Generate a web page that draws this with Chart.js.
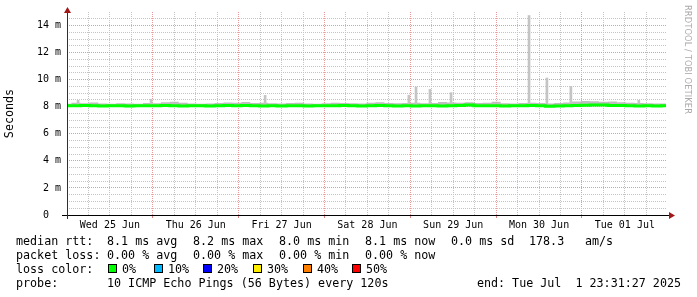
<!DOCTYPE html>
<html>
<head>
<meta charset="utf-8">
<script src="https://cdn.jsdelivr.net/npm/chart.js@4.4.1/dist/chart.umd.min.js"></script>
<style>
html, body { margin: 0; padding: 0; background: #fff; }
#wrap { position: relative; width: 697px; height: 297px; overflow: hidden; background: #fff; }
#chart { position: absolute; left: 0; top: 0; }
.txt { position: absolute; font-family: "DejaVu Sans Mono", monospace; font-size: 11.7px; line-height: 14px; white-space: pre; color: #000; }
.box { position: absolute; width: 7px; height: 7px; border: 1px solid #000; }
#mark { position: absolute; left: 683px; top: 5px; writing-mode: vertical-rl; font-family: "DejaVu Sans", sans-serif; font-size: 8.3px; color: #aaaaaa; letter-spacing: 0.1px; }
</style>
</head>
<body>
<div id="wrap">
  <canvas id="chart" width="697" height="297"></canvas>
  <div id="mark">RRDTOOL / TOBI OETIKER</div>

  <div class="txt" style="left:16px;top:234px">median rtt:</div>
  <div class="txt" style="left:107px;top:234px">8.1 ms avg</div>
  <div class="txt" style="left:193px;top:234px">8.2 ms max</div>
  <div class="txt" style="left:279px;top:234px">8.0 ms min</div>
  <div class="txt" style="left:365px;top:234px">8.1 ms now</div>
  <div class="txt" style="left:451px;top:234px">0.0 ms sd</div>
  <div class="txt" style="left:529px;top:234px">178.3</div>
  <div class="txt" style="left:585px;top:234px">am/s</div>

  <div class="txt" style="left:16px;top:248px">packet loss:</div>
  <div class="txt" style="left:107px;top:248px">0.00 % avg</div>
  <div class="txt" style="left:193px;top:248px">0.00 % max</div>
  <div class="txt" style="left:279px;top:248px">0.00 % min</div>
  <div class="txt" style="left:365px;top:248px">0.00 % now</div>

  <div class="txt" style="left:16px;top:262px">loss color:</div>
  <div id="lossRow"></div>

  <div class="txt" style="left:16px;top:276px">probe:</div>
  <div class="txt" style="left:107px;top:276px">10 ICMP Echo Pings (56 Bytes) every 120s</div>
  <div class="txt" style="right:16px;top:276px">end: Tue Jul  1 23:31:27 2025</div>
</div>
<script>
// one sample every 2.5 hours, starting Wed 25 Jun 00:00
const stepHours = 2.5
const rangeHours = 167.5

// median rtt (ms)
const medianRtt = [
  8.08, 8.07, 8.09, 8.07, 8.06, 8.08, 8.07, 8.05, 8.07, 8.08,
  8.07, 8.09, 8.07, 8.06, 8.07, 8.08, 8.06, 8.07, 8.09, 8.08,
  8.10, 8.08, 8.06, 8.07, 8.06, 8.08, 8.07, 8.06, 8.07, 8.08,
  8.07, 8.09, 8.08, 8.06, 8.08, 8.09, 8.07, 8.06, 8.07, 8.06,
  8.08, 8.07, 8.06, 8.08, 8.10, 8.12, 8.08, 8.07, 8.08, 8.06,
  8.07, 8.08, 8.09, 8.07, 8.04, 8.06, 8.08, 8.09, 8.11, 8.13,
  8.12, 8.10, 8.09, 8.07, 8.06, 8.07, 8.06, 8.07
]

// smoke: spread of the single pings (ms)
const smokeHigh = [
  8.22, 8.30, 8.25, 8.32, 8.24, 8.22, 8.25, 8.23, 8.22, 8.28,
  8.26, 8.33, 8.36, 8.30, 8.24, 8.22, 8.24, 8.27, 8.32, 8.30,
  8.35, 8.28, 8.30, 8.26, 8.24, 8.28, 8.30, 8.24, 8.22, 8.25,
  8.30, 8.28, 8.26, 8.24, 8.30, 8.34, 8.28, 8.25, 8.28, 8.30,
  8.26, 8.28, 8.35, 8.32, 8.30, 8.34, 8.28, 8.30, 8.36, 8.26,
  8.24, 8.28, 8.30, 8.27, 8.24, 8.28, 8.32, 8.38, 8.42, 8.40,
  8.36, 8.38, 8.34, 8.30, 8.28, 8.25, 8.23, 8.24
]
const smokeLow = [
  7.99, 7.98, 8.00, 7.99, 7.98, 7.99, 7.98, 7.97, 7.99, 8.00,
  7.99, 8.00, 7.98, 7.98, 7.99, 8.00, 7.98, 7.99, 8.00, 7.99,
  8.01, 7.99, 7.98, 7.99, 7.98, 7.99, 7.99, 7.98, 7.99, 8.00,
  7.99, 8.00, 7.99, 7.98, 7.99, 8.00, 7.99, 7.98, 7.99, 7.98,
  7.99, 7.99, 7.98, 7.99, 8.01, 8.02, 7.99, 7.98, 7.99, 7.98,
  7.99, 7.99, 8.00, 7.99, 7.96, 7.98, 7.99, 8.00, 8.02, 8.03,
  8.03, 8.01, 8.00, 7.99, 7.98, 7.99, 7.98, 7.99
]

// single slow pings (hours since Wed 25 Jun 00:00, ms)
const spikeHours = [3.1, 23.5, 55.4, 95.6, 97.6, 101.5, 107.4, 129.2, 134.2, 140.9, 159.9]
const spikeTops  = [8.47, 8.55, 8.84, 8.85, 9.46, 9.28, 9.04, 14.74, 10.12, 9.50, 8.47]
const spikeBase  = [8.20, 8.22, 8.24, 8.22, 8.24, 8.24, 8.26, 8.24, 8.22, 8.26, 8.26]

const dayLabels = ["Wed 25 Jun", "Thu 26 Jun", "Fri 27 Jun", "Sat 28 Jun", "Sun 29 Jun", "Mon 30 Jun", "Tue 01 Jul"]
const yMax = 15

const lossColors = ["#00ff00", "#00b8ff", "#0000ff", "#ffee00", "#ff8000", "#ff0000"]
const lossLabels = ["0%", "10%", "20%", "30%", "40%", "50%"]
const lossBoxX = [108, 154, 203, 253, 303, 352]

const lossRow = document.getElementById("lossRow")
lossColors.forEach((c, i) => {
  lossRow.insertAdjacentHTML("beforeend",
    `<div class="box" style="left:${lossBoxX[i]}px;top:264px;background:${c}"></div>` +
    `<div class="txt" style="left:${lossBoxX[i] + 14}px;top:262px">${lossLabels[i]}</div>`)
})

const toPoints = arr => arr.map((v, i) => ({ x: i * stepHours, y: v }))

const gridHours = []
for (let h = 0; h < rangeHours; h += 6) gridHours.push(h)
const gridMs = []
for (let v = 0; v < yMax; v += 0.5) gridMs.push(v)

const clear = "rgba(0,0,0,0)"
const minorColor = "#c4c4c4"
const majorColor = "#e89a9a"
const font = { family: "DejaVu Sans Mono", size: 10 }

function gridColor(c, every) {
  if (!c.tick) return clear
  const v = c.tick.value
  if (v === 0) return clear
  return v % every === 0 ? majorColor : minorColor
}

const rrdAxes = {
  id: "rrdAxes",
  afterDatasetsDraw(chart) {
    const { ctx, chartArea: a } = chart
    ctx.save()
    ctx.strokeStyle = "#000"
    ctx.lineWidth = 1
    ctx.beginPath()
    ctx.moveTo(a.left - 5, a.bottom + 0.5)
    ctx.lineTo(a.right + 4, a.bottom + 0.5)
    ctx.stroke()
    ctx.strokeStyle = "#3a2a2a"
    ctx.beginPath()
    ctx.moveTo(a.left + 0.5, a.bottom + 4)
    ctx.lineTo(a.left + 0.5, a.top - 2)
    ctx.stroke()
    ctx.fillStyle = "#a01818"
    ctx.beginPath()
    ctx.moveTo(a.left + 0.5, a.top - 5)
    ctx.lineTo(a.left - 3, a.top + 1)
    ctx.lineTo(a.left + 4, a.top + 1)
    ctx.closePath()
    ctx.fill()
    ctx.beginPath()
    ctx.moveTo(a.right + 9, a.bottom + 0.5)
    ctx.lineTo(a.right + 3, a.bottom - 3)
    ctx.lineTo(a.right + 3, a.bottom + 4)
    ctx.closePath()
    ctx.fill()
    ctx.restore()
  }
}

new Chart(document.getElementById("chart"), {
  type: "line",
  data: {
    datasets: [
      {
        data: toPoints(smokeLow),
        borderWidth: 0, pointRadius: 0, stepped: "middle", fill: false, order: 3
      },
      {
        data: toPoints(smokeHigh),
        borderWidth: 0, pointRadius: 0, stepped: "middle", fill: "-1",
        backgroundColor: "rgba(180,180,180,0.85)", order: 3
      },
      {
        type: "bar",
        data: spikeHours.map((h, i) => ({ x: h, y: [spikeBase[i], spikeTops[i]] })),
        backgroundColor: "#c4c4c4", barThickness: 2, order: 2
      },
      {
        data: toPoints(medianRtt),
        borderColor: "#00ff00", borderWidth: 3, pointRadius: 0, stepped: "middle", fill: false, order: 1
      }
    ]
  },
  options: {
    responsive: false,
    animation: false,
    devicePixelRatio: 1,
    layout: { padding: { top: 11, right: 31, bottom: 0, left: 0 } },
    plugins: { legend: { display: false }, tooltip: { enabled: false } },
    scales: {
      x: {
        type: "linear", min: 0, max: rangeHours, offset: false,
        afterBuildTicks: s => { s.ticks = gridHours.map(v => ({ value: v })) },
        afterFit: s => { s.height = 82 },
        border: { display: false, dash: [1, 1] },
        grid: {
          offset: false,
          color: c => gridColor(c, 24),
          tickColor: c => (c.tick && c.tick.value % 24 === 0 && c.tick.value > 0) ? "#e08080" : clear,
          tickLength: 3, drawTicks: true
        },
        ticks: {
          autoSkip: false, maxRotation: 0, padding: 1, color: "#000", font,
          callback: v => v % 24 === 12 ? dayLabels[(v - 12) / 24] : ""
        }
      },
      y: {
        type: "linear", min: 0, max: yMax,
        afterBuildTicks: s => { s.ticks = gridMs.map(v => ({ value: v })) },
        afterFit: s => { s.width = 67 },
        border: { display: false, dash: [1, 1] },
        grid: {
          color: c => gridColor(c, 2),
          drawTicks: false
        },
        ticks: {
          autoSkip: false, padding: 6, color: "#000", font,
          callback: v => v === 0 ? "0  " : (v % 2 === 0 ? v + " m" : "")
        },
        title: {
          display: true, text: "Seconds", color: "#000",
          font: { family: "DejaVu Sans Mono", size: 11.7 }, padding: { top: 3, bottom: 0 }
        }
      }
    }
  },
  plugins: [rrdAxes]
})
</script>
</body>
</html>
